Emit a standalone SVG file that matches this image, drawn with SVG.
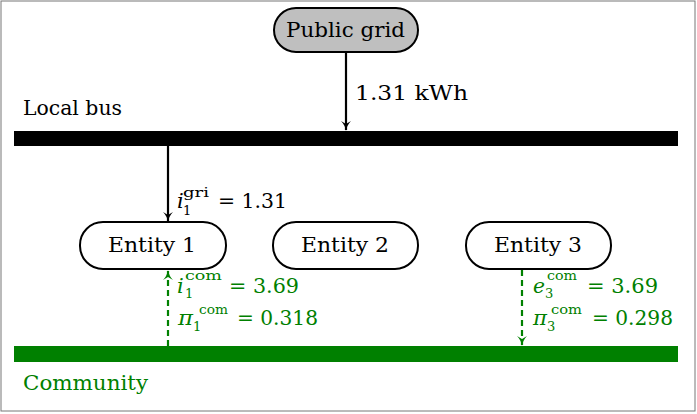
<svg xmlns="http://www.w3.org/2000/svg" width="697" height="414" viewBox="0 0 697 414">
<defs>
<marker id="ah" viewBox="0 0 10 10" refX="9" refY="5" markerWidth="10" markerHeight="10" markerUnits="userSpaceOnUse" orient="auto">
<path d="M0,0 Q4,4 10,5 Q4,6 0,10 L3,5 Z" fill="#000"/>
</marker>
<marker id="ahg" viewBox="0 0 10 10" refX="9" refY="5" markerWidth="10" markerHeight="10" markerUnits="userSpaceOnUse" orient="auto">
<path d="M0,0 Q4,4 10,5 Q4,6 0,10 L3,5 Z" fill="#008000"/>
</marker>
<style>
.g{fill:#008000}
.it{font-style:italic}
.s{font-size:13px}
.node{fill:#fff;stroke:#000;stroke-width:2}
.blk{stroke:#000;stroke-width:2.2;fill:none}
.dash{stroke:#008000;stroke-width:2.2;stroke-dasharray:6,4;fill:none}
</style>
</defs>
<g font-family="'DejaVu Serif', 'Liberation Serif', serif" font-size="21" fill="#000">
<rect x="1" y="1" width="694" height="410" fill="#fff" stroke="#777" stroke-width="1"/>

<g id="local-bus">
<rect x="14" y="131" width="664" height="15" fill="#000"/>
<text x="23" y="115" textLength="99" lengthAdjust="spacingAndGlyphs">Local bus</text>
</g>
<g id="community">
<rect x="14" y="346" width="664" height="16" fill="#008000"/>
<text class="g" x="23" y="390" textLength="125" lengthAdjust="spacingAndGlyphs">Community</text>
</g>

<g id="public-grid">
<rect x="274" y="8" width="144" height="44" rx="22" fill="#bfbfbf" stroke="#000" stroke-width="2"/>
<text x="286" y="37" textLength="119" lengthAdjust="spacingAndGlyphs">Public grid</text>
</g>
<g id="entity1">
<rect class="node" x="80" y="222" width="146" height="47" rx="23"/>
<text x="108" y="252" textLength="88" lengthAdjust="spacingAndGlyphs">Entity 1</text>
</g>
<g id="entity2">
<rect class="node" x="273" y="222" width="145" height="47" rx="23"/>
<text x="301" y="252" textLength="88" lengthAdjust="spacingAndGlyphs">Entity 2</text>
</g>
<g id="entity3">
<rect class="node" x="466" y="222" width="145" height="47" rx="23"/>
<text x="494" y="252" textLength="88" lengthAdjust="spacingAndGlyphs">Entity 3</text>
</g>

<g id="connectors">
<line class="blk" x1="346" y1="53" x2="346" y2="130" marker-end="url(#ah)"/>
<line class="blk" x1="168" y1="146" x2="168" y2="221" marker-end="url(#ah)"/>
<line class="dash" x1="168" y1="346" x2="168" y2="271" marker-end="url(#ahg)"/>
<line class="dash" x1="522" y1="270" x2="522" y2="345" marker-end="url(#ahg)"/>
</g>

<g id="labels">
<text x="355" y="100" textLength="113" lengthAdjust="spacingAndGlyphs">1.31 kWh</text>

<text class="it" x="177" y="208">i</text>
<text class="s" x="183" y="197" textLength="26" lengthAdjust="spacingAndGlyphs">gri</text>
<text class="s" x="183" y="215">1</text>
<text x="218" y="208" textLength="69" lengthAdjust="spacingAndGlyphs">= 1.31</text>

<text class="g it" x="177" y="293">i</text>
<text class="g s" x="185" y="280" textLength="37" lengthAdjust="spacingAndGlyphs">com</text>
<text class="g s" x="185" y="298">1</text>
<text class="g" x="229" y="293" textLength="70" lengthAdjust="spacingAndGlyphs">= 3.69</text>

<text class="g it" x="178" y="325" textLength="15" lengthAdjust="spacingAndGlyphs">π</text>
<text class="g s" x="199" y="314" textLength="29" lengthAdjust="spacingAndGlyphs">com</text>
<text class="g s" x="193" y="331">1</text>
<text class="g" x="237" y="325" textLength="81" lengthAdjust="spacingAndGlyphs">= 0.318</text>

<text class="g it" x="533" y="293" textLength="12" lengthAdjust="spacingAndGlyphs">e</text>
<text class="g s" x="547" y="280" textLength="30" lengthAdjust="spacingAndGlyphs">com</text>
<text class="g s" x="545" y="298">3</text>
<text class="g" x="587" y="293" textLength="71" lengthAdjust="spacingAndGlyphs">= 3.69</text>

<text class="g it" x="533" y="325" textLength="14" lengthAdjust="spacingAndGlyphs">π</text>
<text class="g s" x="551" y="314" textLength="31" lengthAdjust="spacingAndGlyphs">com</text>
<text class="g s" x="547" y="331">3</text>
<text class="g" x="592" y="325" textLength="81" lengthAdjust="spacingAndGlyphs">= 0.298</text>
</g>
</g>
</svg>
